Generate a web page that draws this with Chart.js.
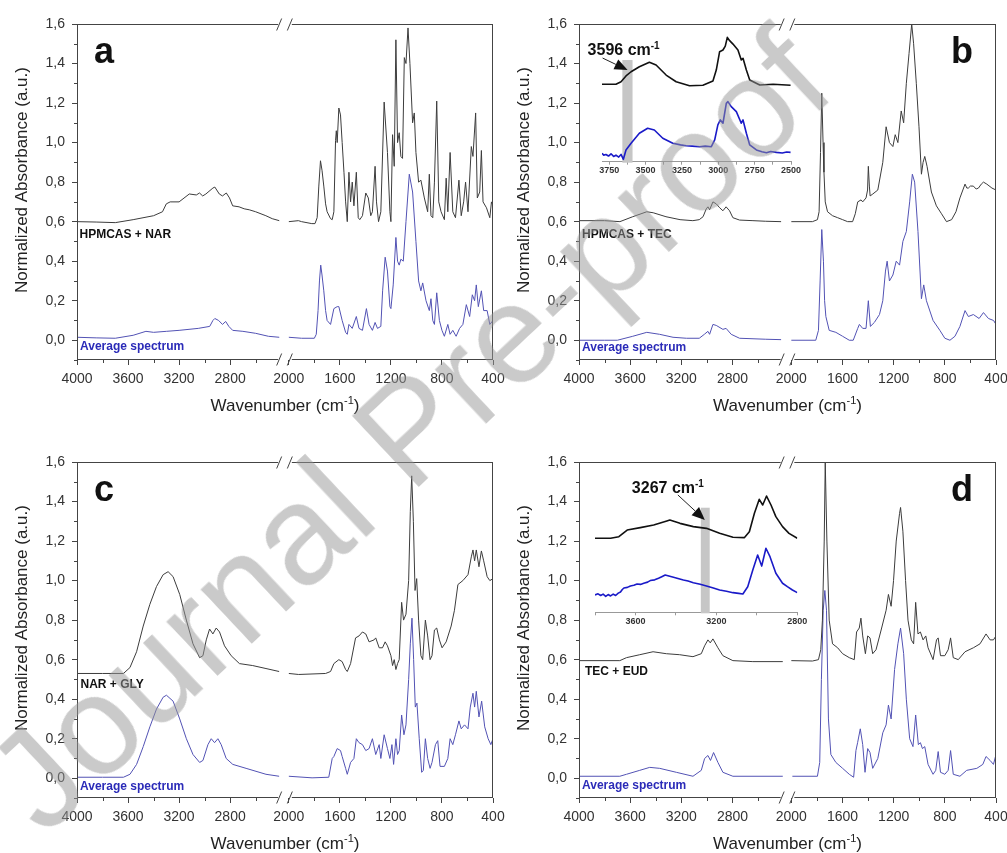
<!DOCTYPE html>
<html>
<head>
<meta charset="utf-8">
<script src="https://cdn.jsdelivr.net/npm/chart.js@4.4.1/dist/chart.umd.min.js"></script>
<style>
  html, body { margin: 0; padding: 0; background: #fff; overflow: hidden; }
  #fig { position: relative; width: 1007px; height: 853px; }
  canvas { position: absolute; }
  #wm {
    position: absolute; left: 45px; top: 718.6px;
    font: 141px "Liberation Sans", Arial, sans-serif; line-height: 141px;
    color: rgba(150, 150, 150, 0.5);
    transform-origin: 0 119.4px; transform: rotate(-43.2deg);
    white-space: nowrap; pointer-events: none;
  }
</style>
</head>
<body>
<div id="fig">
  <canvas id="pa" width="505" height="420" style="left:0;top:0"></canvas>
  <canvas id="pb" width="505" height="420" style="left:502px;top:0"></canvas>
  <canvas id="pc" width="505" height="420" style="left:0;top:438px"></canvas>
  <canvas id="pd" width="505" height="420" style="left:502px;top:438px"></canvas>
  <canvas id="ib" width="232" height="165" style="left:575px;top:25px"></canvas>
  <canvas id="id" width="225" height="165" style="left:585px;top:465px"></canvas>
  <div id="wm">Journal Pre-proof</div>
</div>
<script>
// FTIR spectra, 4 panels, broken wavenumber axis (4000-2400 | 2000-400)
const FONT = '"Liberation Sans", Arial, sans-serif';
const TOP_COLOR = "#3c3c3c";
const AVG_COLOR = "#5252b4";
const AVG_TEXT = "#2b2bb8";
const FRAME = "#444";

const X_TICK_WN = [4000, 3600, 3200, 2800, 2000, 1600, 1200, 800, 400];
const X_MINOR_WN = [3800, 3400, 3000, 2600, 1800, 1400, 1000, 600];
const Y_TICKS = [0, 0.2, 0.4, 0.6, 0.8, 1.0, 1.2, 1.4, 1.6];
const Y_MINOR = [-0.1, 0.1, 0.3, 0.5, 0.7, 0.9, 1.1, 1.3, 1.5];

// [wavenumber, absorbance]
const A_TOP = [[4000,0.600],[3850,0.598],[3700,0.595],[3560,0.610],[3400,0.630],[3330,0.650],[3300,0.690],[3270,0.700],[3200,0.700],[3120,0.740],[3065,0.735],[3040,0.745],[3015,0.730],[2990,0.740],[2935,0.770],[2920,0.775],[2885,0.740],[2860,0.730],[2830,0.745],[2805,0.720],[2780,0.680],[2730,0.675],[2690,0.665],[2650,0.660],[2600,0.650],[2520,0.630],[2470,0.615],[2415,0.605],
  [2000,0.600],[1925,0.605],[1900,0.600],[1820,0.590],[1795,0.590],[1778,0.620],[1765,0.780],[1752,0.908],[1740,0.860],[1726,0.780],[1712,0.690],[1700,0.650],[1673,0.615],[1660,0.610],[1647,0.650],[1634,1.010],[1628,1.060],[1621,1.000],[1608,1.175],[1595,1.140],[1582,1.000],[1568,0.850],[1555,0.700],[1542,0.600],[1529,0.850],[1516,0.700],[1503,0.800],[1490,0.680],[1471,0.850],[1456,0.620],[1444,0.610],[1423,0.630],[1397,0.745],[1377,0.720],[1358,0.630],[1345,0.650],[1324,0.880],[1313,0.700],[1297,0.600],[1279,0.650],[1253,1.205],[1227,0.950],[1208,0.650],[1200,0.600],[1187,1.040],[1174,0.880],[1161,1.520],[1148,1.000],[1135,1.050],[1122,0.930],[1109,0.920],[1095,1.430],[1082,1.400],[1066,1.580],[1051,1.400],[1030,1.100],[1017,1.150],[1004,0.950],[983,0.800],[965,0.810],[938,0.720],[912,0.650],[899,0.840],[886,0.630],[872,0.620],[859,0.800],[841,1.210],[825,0.700],[807,0.650],[781,0.610],[767,0.820],[754,0.650],[736,0.950],[715,0.650],[694,0.620],[667,0.810],[649,0.630],[630,0.700],[615,0.800],[596,0.650],[570,0.980],[557,0.930],[536,1.150],[523,0.720],[504,0.750],[491,0.960],[478,0.700],[451,0.670],[425,0.620],[412,0.700],[400,0.680]];
const A_AVG = [[4000,0.015],[3850,0.012],[3700,0.010],[3560,0.025],[3460,0.045],[3400,0.040],[3300,0.045],[3200,0.050],[3050,0.060],[2960,0.070],[2935,0.100],[2920,0.110],[2890,0.100],[2860,0.080],[2835,0.095],[2810,0.070],[2780,0.050],[2700,0.045],[2600,0.035],[2500,0.020],[2415,0.015],
  [2000,0.015],[1900,0.010],[1800,0.010],[1785,0.030],[1771,0.150],[1760,0.300],[1750,0.380],[1740,0.330],[1726,0.250],[1712,0.150],[1700,0.100],[1673,0.080],[1647,0.160],[1621,0.170],[1608,0.170],[1582,0.100],[1555,0.040],[1542,0.030],[1529,0.080],[1503,0.060],[1471,0.120],[1450,0.060],[1423,0.050],[1392,0.160],[1371,0.080],[1345,0.050],[1324,0.090],[1305,0.060],[1279,0.070],[1265,0.250],[1245,0.420],[1227,0.350],[1208,0.170],[1200,0.160],[1182,0.280],[1161,0.520],[1148,0.400],[1135,0.380],[1122,0.410],[1103,0.400],[1082,0.600],[1056,0.840],[1030,0.750],[1004,0.500],[983,0.300],[965,0.250],[951,0.290],[925,0.200],[899,0.150],[886,0.210],[872,0.100],[859,0.080],[841,0.240],[820,0.100],[800,0.050],[781,0.020],[754,0.080],[736,0.030],[715,0.050],[689,0.020],[662,0.060],[636,0.080],[609,0.180],[583,0.120],[562,0.230],[544,0.200],[531,0.280],[515,0.170],[491,0.250],[473,0.150],[446,0.150],[425,0.080],[400,0.100]];

const B_TOP = [[4000,0.605],[3800,0.605],[3680,0.600],[3580,0.625],[3470,0.650],[3420,0.645],[3320,0.625],[3210,0.610],[3110,0.605],[3060,0.610],[3030,0.625],[3005,0.665],[2992,0.675],[2979,0.660],[2953,0.700],[2927,0.690],[2900,0.670],[2875,0.655],[2850,0.675],[2823,0.655],[2797,0.620],[2745,0.608],[2640,0.605],[2540,0.602],[2420,0.600],
  [2000,0.600],[1835,0.600],[1796,0.610],[1783,0.650],[1772,0.950],[1762,1.250],[1752,1.000],[1745,0.850],[1735,0.700],[1717,0.650],[1678,0.630],[1638,0.620],[1599,0.610],[1560,0.600],[1521,0.600],[1500,0.640],[1481,0.700],[1455,0.710],[1442,0.700],[1416,0.720],[1404,0.760],[1398,0.880],[1390,0.780],[1384,0.730],[1363,0.740],[1324,0.760],[1285,0.900],[1259,1.080],[1233,1.000],[1206,0.980],[1188,1.040],[1167,1.000],[1141,1.160],[1122,1.100],[1101,1.300],[1080,1.450],[1059,1.600],[1044,1.500],[1023,1.300],[1002,1.080],[983,0.840],[970,0.900],[957,0.930],[939,0.880],[905,0.750],[866,0.680],[826,0.640],[787,0.600],[747,0.610],[713,0.650],[682,0.720],[642,0.790],[628,0.770],[616,0.770],[600,0.780],[577,0.780],[555,0.765],[537,0.770],[515,0.790],[498,0.800],[472,0.790],[432,0.770],[400,0.760]];
const B_AVG = [[4000,0.000],[3800,0.000],[3700,0.000],[3580,0.020],[3470,0.040],[3370,0.030],[3265,0.015],[3160,0.010],[3060,0.010],[3020,0.030],[2992,0.045],[2979,0.030],[2953,0.080],[2927,0.075],[2875,0.055],[2850,0.060],[2810,0.030],[2745,0.010],[2540,0.005],[2420,0.003],
  [2000,0.000],[1809,0.000],[1788,0.050],[1775,0.300],[1762,0.560],[1749,0.400],[1740,0.200],[1730,0.120],[1704,0.050],[1652,0.040],[1599,0.020],[1547,0.000],[1516,0.000],[1481,0.060],[1468,0.080],[1442,0.060],[1416,0.060],[1398,0.200],[1382,0.070],[1351,0.090],[1311,0.130],[1285,0.200],[1264,0.350],[1251,0.400],[1233,0.300],[1206,0.330],[1180,0.400],[1154,0.380],[1128,0.500],[1101,0.550],[1075,0.700],[1054,0.840],[1036,0.800],[1010,0.550],[983,0.210],[965,0.280],[944,0.200],[892,0.100],[839,0.050],[800,0.010],[760,0.000],[721,0.020],[682,0.070],[642,0.150],[616,0.120],[577,0.130],[532,0.110],[498,0.140],[459,0.110],[419,0.100],[400,0.080]];

const C_TOP = [[4000,0.530],[3800,0.530],[3636,0.530],[3585,0.560],[3533,0.640],[3481,0.770],[3429,0.880],[3377,0.970],[3325,1.030],[3286,1.045],[3247,1.020],[3195,0.930],[3143,0.800],[3091,0.680],[3039,0.610],[3013,0.620],[2987,0.700],[2961,0.755],[2935,0.730],[2909,0.760],[2883,0.740],[2844,0.670],[2792,0.620],[2727,0.580],[2623,0.570],[2519,0.555],[2416,0.540],
  [2000,0.530],[1923,0.525],[1712,0.530],[1673,0.540],[1647,0.580],[1608,0.600],[1582,0.590],[1555,0.550],[1542,0.540],[1516,0.580],[1477,0.710],[1450,0.720],[1423,0.740],[1397,0.730],[1371,0.690],[1332,0.700],[1319,0.710],[1292,0.660],[1266,0.660],[1245,0.690],[1227,0.670],[1200,0.620],[1187,0.570],[1174,0.600],[1161,0.550],[1148,0.580],[1135,0.600],[1116,0.890],[1101,0.800],[1082,0.830],[1061,1.000],[1048,1.350],[1037,1.530],[1024,1.300],[1011,0.950],[998,1.010],[983,0.800],[965,0.620],[951,0.600],[930,0.800],[912,0.720],[893,0.600],[878,0.620],[859,0.750],[841,0.760],[820,0.700],[799,0.660],[767,0.690],[728,0.770],[702,0.850],[675,0.980],[636,1.000],[596,1.030],[570,1.120],[557,1.155],[544,1.100],[531,1.155],[510,1.070],[491,1.150],[473,1.100],[446,1.020],[425,1.000],[400,1.010]];
const C_AVG = [[4000,0.005],[3800,0.005],[3636,0.005],[3585,0.020],[3533,0.070],[3481,0.160],[3429,0.260],[3377,0.350],[3325,0.410],[3299,0.420],[3247,0.390],[3195,0.300],[3143,0.200],[3091,0.120],[3039,0.080],[3013,0.090],[2974,0.170],[2948,0.200],[2922,0.180],[2896,0.200],[2870,0.170],[2831,0.100],[2779,0.070],[2675,0.050],[2519,0.020],[2416,0.010],
  [2000,0.010],[1818,0.002],[1687,0.005],[1660,0.100],[1647,0.110],[1621,0.150],[1595,0.140],[1582,0.110],[1555,0.050],[1542,0.020],[1516,0.080],[1490,0.100],[1471,0.200],[1450,0.180],[1423,0.170],[1397,0.140],[1371,0.150],[1345,0.200],[1319,0.120],[1292,0.170],[1279,0.100],[1253,0.220],[1227,0.150],[1208,0.100],[1192,0.170],[1179,0.070],[1161,0.200],[1148,0.120],[1135,0.140],[1116,0.320],[1098,0.220],[1082,0.270],[1061,0.500],[1048,0.680],[1035,0.810],[1022,0.600],[1009,0.360],[996,0.380],[978,0.200],[959,0.030],[946,0.040],[930,0.200],[912,0.100],[893,0.050],[878,0.080],[851,0.170],[833,0.190],[815,0.060],[781,0.060],[754,0.100],[736,0.200],[715,0.170],[694,0.220],[667,0.290],[649,0.250],[623,0.270],[596,0.250],[578,0.360],[557,0.430],[544,0.360],[531,0.440],[510,0.310],[489,0.390],[465,0.260],[438,0.200],[417,0.170],[400,0.200]];

const D_TOP = [[4000,0.595],[3681,0.595],[3629,0.610],[3525,0.625],[3421,0.640],[3317,0.630],[3213,0.625],[3109,0.615],[3044,0.630],[3018,0.670],[2992,0.700],[2974,0.685],[2953,0.705],[2914,0.660],[2875,0.620],[2797,0.595],[2641,0.590],[2407,0.590],
  [2000,0.595],[1835,0.593],[1788,0.600],[1770,0.650],[1757,0.800],[1743,1.200],[1735,1.600],[1722,1.200],[1704,0.800],[1678,0.680],[1638,0.660],[1599,0.630],[1547,0.610],[1508,0.600],[1490,0.740],[1469,0.760],[1456,0.810],[1442,0.720],[1421,0.630],[1403,0.720],[1385,0.710],[1364,0.630],[1338,0.650],[1298,0.750],[1259,0.850],[1241,0.930],[1220,0.870],[1201,1.000],[1180,1.200],[1154,1.340],[1146,1.370],[1128,1.250],[1107,1.000],[1088,0.800],[1062,0.700],[1044,0.680],[1028,0.890],[1010,0.730],[991,0.740],[970,0.700],[949,0.720],[931,0.660],[892,0.600],[865,0.700],[852,0.710],[834,0.620],[800,0.620],[774,0.650],[755,0.710],[734,0.610],[695,0.600],[642,0.640],[577,0.660],[525,0.680],[478,0.730],[446,0.700],[420,0.700],[400,0.720]];
const D_AVG = [[4000,0.010],[3681,0.010],[3629,0.020],[3525,0.040],[3447,0.055],[3369,0.050],[3239,0.030],[3109,0.010],[3044,0.040],[3018,0.100],[2992,0.115],[2972,0.090],[2948,0.130],[2914,0.080],[2875,0.030],[2797,0.010],[2407,0.010],
  [1992,0.010],[1796,0.010],[1778,0.080],[1765,0.500],[1751,0.850],[1738,0.950],[1725,0.850],[1710,0.300],[1691,0.120],[1652,0.080],[1599,0.050],[1547,0.020],[1513,0.005],[1495,0.140],[1482,0.180],[1461,0.250],[1442,0.170],[1424,0.030],[1403,0.150],[1385,0.130],[1364,0.050],[1324,0.100],[1285,0.230],[1259,0.270],[1241,0.370],[1220,0.300],[1193,0.550],[1167,0.680],[1146,0.760],[1122,0.630],[1101,0.400],[1075,0.200],[1049,0.160],[1028,0.320],[1007,0.170],[991,0.180],[975,0.150],[957,0.160],[931,0.070],[892,0.020],[871,0.040],[852,0.135],[834,0.030],[800,0.020],[774,0.040],[755,0.140],[734,0.020],[682,0.010],[629,0.040],[550,0.050],[503,0.070],[478,0.110],[446,0.090],[420,0.070],[400,0.120]];

// insets: O-H / C-H stretching region, arbitrary units
const B_IN_TOP = [[3800,0.588],[3704,0.588],[3669,0.607],[3635,0.651],[3600,0.683],[3543,0.721],[3474,0.755],[3428,0.734],[3359,0.658],[3290,0.607],[3198,0.577],[3106,0.580],[3037,0.613],[3014,0.696],[2991,0.835],[2968,0.848],[2952,0.878],[2938,0.944],[2922,0.919],[2899,0.893],[2865,0.848],[2842,0.772],[2830,0.785],[2807,0.696],[2784,0.620],[2715,0.582],[2623,0.588],[2503,0.580]];
const B_IN_AVG = [[3800,0.064],[3788,0.050],[3773,0.055],[3755,0.043],[3738,0.060],[3720,0.040],[3704,0.050],[3685,0.035],[3669,0.055],[3653,0.018],[3635,0.089],[3600,0.140],[3543,0.216],[3486,0.254],[3440,0.241],[3382,0.178],[3313,0.140],[3260,0.128],[3221,0.121],[3180,0.118],[3129,0.114],[3090,0.118],[3048,0.114],[3025,0.165],[3003,0.279],[2986,0.317],[2968,0.292],[2945,0.443],[2934,0.456],[2911,0.418],[2876,0.380],[2842,0.292],[2830,0.317],[2807,0.216],[2784,0.127],[2738,0.089],[2700,0.075],[2669,0.068],[2640,0.078],[2600,0.071],[2560,0.066],[2530,0.074],[2503,0.071]];
const D_IN_TOP = [[3800,0.520],[3723,0.520],[3682,0.531],[3641,0.578],[3576,0.595],[3510,0.613],[3445,0.642],[3430,0.649],[3380,0.625],[3314,0.602],[3249,0.590],[3184,0.555],[3118,0.527],[3061,0.525],[3037,0.566],[3012,0.696],[2988,0.794],[2971,0.754],[2952,0.817],[2930,0.754],[2906,0.672],[2873,0.602],[2841,0.555],[2800,0.520]];
const D_IN_AVG = [[3800,0.122],[3785,0.130],[3772,0.118],[3760,0.128],[3747,0.112],[3735,0.125],[3723,0.115],[3710,0.128],[3698,0.118],[3685,0.135],[3674,0.143],[3665,0.160],[3657,0.171],[3640,0.175],[3625,0.185],[3608,0.190],[3592,0.199],[3575,0.196],[3559,0.204],[3540,0.212],[3527,0.223],[3505,0.228],[3486,0.239],[3470,0.250],[3453,0.262],[3435,0.255],[3412,0.246],[3390,0.238],[3363,0.227],[3340,0.220],[3314,0.208],[3280,0.197],[3249,0.185],[3215,0.170],[3184,0.157],[3150,0.148],[3118,0.138],[3090,0.133],[3069,0.129],[3045,0.180],[3020,0.297],[2996,0.403],[2976,0.325],[2955,0.450],[2935,0.391],[2906,0.274],[2873,0.204],[2849,0.180],[2824,0.157],[2800,0.138]];

// broken axis: wavenumber -> linear position
const SEG_GAP = 60;
const U_MAX = 3200 + SEG_GAP;
const toU = (w) => (w >= 2200 ? 4000 - w : 1600 + SEG_GAP + (2000 - w));
const fromU = (u) => (u <= 1600 ? 4000 - u : 2000 - (u - 1600 - SEG_GAP));

function toPoints(pairs) {
  const pts = [];
  pairs.forEach(([w, v], i) => {
    if (i > 0 && pairs[i - 1][0] >= 2200 && w < 2200) pts.push({ x: 1600 + SEG_GAP / 2, y: null });
    pts.push({ x: toU(w), y: v });
  });
  return pts;
}

function supText(ctx, x, y, base, sup, tail, size, weight, align) {
  const f = (s) => `${weight} ${s}px ${FONT}`;
  const ss = Math.round(size * 0.62);
  ctx.font = f(size); const w1 = ctx.measureText(base).width; const w3 = ctx.measureText(tail).width;
  ctx.font = f(ss); const w2 = ctx.measureText(sup).width;
  const x0 = align === "center" ? x - (w1 + w2 + w3) / 2 : x;
  ctx.textAlign = "left"; ctx.textBaseline = "alphabetic";
  ctx.font = f(size); ctx.fillText(base, x0, y);
  ctx.font = f(ss); ctx.fillText(sup, x0 + w1, y - size * 0.4);
  ctx.font = f(size); ctx.fillText(tail, x0 + w1 + w2, y);
}

const panelDeco = {
  id: "panelDeco",
  afterDraw(chart) {
    const p = chart.options.plugins.panelDeco;
    const { ctx, chartArea: ca, scales: { x, y } } = chart;
    const xl = x.getPixelForValue(1600), xr = x.getPixelForValue(1600 + SEG_GAP);
    ctx.save();
    ctx.strokeStyle = FRAME; ctx.lineWidth = 1;
    ctx.beginPath();
    ctx.moveTo(ca.left + 0.5, ca.top); ctx.lineTo(ca.left + 0.5, ca.bottom);
    ctx.moveTo(ca.right - 0.5, ca.top); ctx.lineTo(ca.right - 0.5, ca.bottom);
    [ca.top + 0.5, ca.bottom - 0.5].forEach((yy) => {
      ctx.moveTo(ca.left, yy); ctx.lineTo(xl - 3, yy);
      ctx.moveTo(xr + 3, yy); ctx.lineTo(ca.right, yy);
      // break marks
      ctx.moveTo(xl - 4.5, yy + 6); ctx.lineTo(xl + 0.5, yy - 6);
      ctx.moveTo(xr - 1.5, yy + 6); ctx.lineTo(xr + 3.5, yy - 6);
    });
    // minor ticks
    Y_MINOR.forEach((v) => { const py = Math.round(y.getPixelForValue(v)) + 0.5; ctx.moveTo(ca.left, py); ctx.lineTo(ca.left - 3, py); });
    X_MINOR_WN.forEach((w) => { const px = Math.round(x.getPixelForValue(toU(w))) + 0.5; ctx.moveTo(px, ca.bottom); ctx.lineTo(px, ca.bottom + 3); });
    ctx.stroke();

    // axis titles
    ctx.fillStyle = "#222";
    ctx.save();
    ctx.translate(ca.left - 55, ca.top + 156);
    ctx.rotate(-Math.PI / 2);
    ctx.font = `17px ${FONT}`; ctx.textAlign = "center"; ctx.textBaseline = "middle";
    ctx.fillText("Normalized Absorbance (a.u.)", 0, 0);
    ctx.restore();
    supText(ctx, (ca.left + ca.right) / 2, ca.bottom + 51, "Wavenumber (cm", "-1", ")", 17, "normal", "center");

    // panel letter
    ctx.fillStyle = "#111"; ctx.font = `bold 36px ${FONT}`;
    ctx.textAlign = "left"; ctx.textBaseline = "alphabetic";
    const lx = p.letterLeft ? ca.left + 17 : ca.right - 45;
    ctx.fillText(p.letter, lx, ca.top + 39);

    // sample labels
    ctx.font = `bold 12px ${FONT}`; ctx.textBaseline = "middle";
    ctx.fillStyle = "#111";
    ctx.fillText(p.name, ca.left + p.nameDx, y.getPixelForValue(p.nameAt));
    ctx.fillStyle = AVG_TEXT;
    ctx.fillText("Average spectrum", ca.left + 3, y.getPixelForValue(p.avgAt));
    ctx.restore();
  },
};

function makePanel(id, top, avg, deco, padRight) {
  return new Chart(document.getElementById(id), {
    type: "line",
    data: {
      datasets: [
        { data: toPoints(top), borderColor: TOP_COLOR, borderWidth: 1 },
        { data: toPoints(avg), borderColor: AVG_COLOR, borderWidth: 1 },
      ],
    },
    options: {
      responsive: false, animation: false, events: [],
      layout: { padding: { left: 0, right: padRight, top: 24, bottom: 0 }, autoPadding: false },
      elements: { point: { radius: 0 }, line: { tension: 0, borderJoinStyle: "round" } },
      spanGaps: false,
      plugins: { legend: { display: false }, tooltip: { enabled: false }, panelDeco: deco },
      scales: {
        x: {
          type: "linear", min: 0, max: U_MAX,
          afterBuildTicks: (s) => { s.ticks = X_TICK_WN.map((w) => ({ value: toU(w) })); },
          afterFit: (s) => { s.height = 60; s.paddingLeft = 0; s.paddingRight = 0; },
          ticks: { autoSkip: false, maxRotation: 0, padding: 6, color: "#333", font: { family: FONT, size: 14 },
                   callback: (v) => String(Math.round(fromU(v))) },
          grid: { drawOnChartArea: false, tickLength: 5, color: FRAME },
          border: { display: false },
        },
        y: {
          min: -0.1, max: 1.6,
          afterBuildTicks: (s) => { s.ticks = Y_TICKS.map((v) => ({ value: v })); },
          afterFit: (s) => { s.width = 77; s.paddingTop = 0; s.paddingBottom = 0; },
          ticks: { padding: 7, color: "#333", font: { family: FONT, size: 14 },
                   callback: (v) => v.toFixed(1).replace(".", ",") },
          grid: { drawOnChartArea: false, tickLength: 5, color: FRAME },
          border: { display: false },
        },
      },
    },
    plugins: [panelDeco],
  });
}

makePanel("pa", A_TOP, A_AVG, { letter: "a", letterLeft: true, name: "HPMCAS + NAR", nameDx: 2.5, nameAt: 0.533, avgAt: -0.035 }, 12);
makePanel("pb", B_TOP, B_AVG, { letter: "b", letterLeft: false, name: "HPMCAS + TEC", nameDx: 3, nameAt: 0.533, avgAt: -0.038 }, 11);
makePanel("pc", C_TOP, C_AVG, { letter: "c", letterLeft: true, name: "NAR + GLY", nameDx: 3.5, nameAt: 0.472, avgAt: -0.043 }, 12);
makePanel("pd", D_TOP, D_AVG, { letter: "d", letterLeft: false, name: "TEC + EUD", nameDx: 6, nameAt: 0.540, avgAt: -0.038 }, 11);

// inset: highlight band, arrow and wavenumber label
const insetDeco = {
  id: "insetDeco",
  beforeDatasetsDraw(chart) {
    const p = chart.options.plugins.insetDeco;
    const { ctx, scales: { x, y } } = chart;
    const x1 = x.getPixelForValue(p.band[0]), x2 = x.getPixelForValue(p.band[1]);
    const y1 = y.getPixelForValue(p.bandTop), y2 = y.getPixelForValue(0) + 1;
    ctx.save();
    ctx.fillStyle = "#c6c6c6";
    ctx.fillRect(Math.min(x1, x2), y1, Math.abs(x2 - x1), y2 - y1);
    ctx.restore();
  },
  afterDraw(chart) {
    const p = chart.options.plugins.insetDeco;
    const { ctx, scales: { x, y } } = chart;
    const tx = x.getPixelForValue(p.tip[0]), ty = y.getPixelForValue(p.tip[1]);
    const sx = tx + p.tail[0], sy = ty + p.tail[1];
    const ang = Math.atan2(ty - sy, tx - sx);
    const hl = 13, hw = 5.5;
    const bx = tx - hl * Math.cos(ang), by = ty - hl * Math.sin(ang);
    ctx.save();
    ctx.strokeStyle = "#222"; ctx.fillStyle = "#111"; ctx.lineWidth = 1;
    ctx.beginPath(); ctx.moveTo(sx, sy); ctx.lineTo(bx, by); ctx.stroke();
    ctx.beginPath();
    ctx.moveTo(tx, ty);
    ctx.lineTo(bx + hw * Math.sin(ang), by - hw * Math.cos(ang));
    ctx.lineTo(bx - hw * Math.sin(ang), by + hw * Math.cos(ang));
    ctx.closePath(); ctx.fill();
    supText(ctx, tx + p.text[0], ty + p.text[1], p.label + " cm", "-1", "", 16, "bold", "left");
    ctx.restore();
  },
};

function makeInset(id, top, avg, range, tickStep, labelled, deco, pad, axisH, labelPad) {
  return new Chart(document.getElementById(id), {
    type: "line",
    data: {
      datasets: [
        { data: top.map(([w, v]) => ({ x: w, y: v })), borderColor: "#111", borderWidth: 1.6 },
        { data: avg.map(([w, v]) => ({ x: w, y: v })), borderColor: "#1a1ac8", borderWidth: 1.6 },
      ],
    },
    options: {
      responsive: false, animation: false, events: [],
      layout: { padding: pad, autoPadding: false },
      elements: { point: { radius: 0 }, line: { tension: 0, borderJoinStyle: "round" } },
      plugins: { legend: { display: false }, tooltip: { enabled: false }, insetDeco: deco },
      scales: {
        x: {
          type: "linear", reverse: true, min: range[1], max: range[0],
          afterBuildTicks: (s) => {
            const t = [];
            for (let w = range[1]; w <= range[0]; w += tickStep) t.push({ value: w });
            s.ticks = t;
          },
          afterFit: (s) => { s.height = axisH; s.paddingLeft = 0; s.paddingRight = 0; },
          ticks: { autoSkip: false, maxRotation: 0, padding: labelPad, color: "#333",
                   font: { family: FONT, size: 9, weight: "bold" },
                   callback: (v) => (labelled.includes(v) ? String(v) : "") },
          grid: { drawOnChartArea: false, tickLength: 3, color: "#999" },
          border: { display: true, color: "#999" },
        },
        y: { display: false, min: 0, max: 1 },
      },
    },
    plugins: [insetDeco],
  });
}

makeInset("ib", B_IN_TOP, B_IN_AVG, [3800, 2500], 125, [3750, 3500, 3250, 3000, 2750, 2500],
  { band: [3660, 3590], bandTop: 0.772, tip: [3624, 0.696], tail: [-25, -12], text: [-40, -15], label: "3596" },
  { left: 27, right: 16, top: 5, bottom: 0 }, 28.3, 0);
makeInset("id", D_IN_TOP, D_IN_AVG, [3800, 2800], 200, [3600, 3200, 2800],
  { band: [3277, 3233], bandTop: 0.735, tip: [3257, 0.649], tail: [-27, -25], text: [-73, -27], label: "3267" },
  { left: 10, right: 12.7, top: 5, bottom: 0 }, 17.7, 1);
</script>
</body>
</html>
